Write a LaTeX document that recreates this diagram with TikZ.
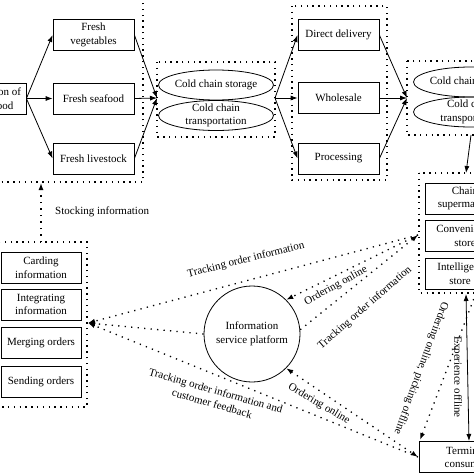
\documentclass[tikz,border=0pt]{standalone}
\usepackage{fontspec}
\setmainfont{Liberation Serif}
\usetikzlibrary{arrows.meta,shapes.geometric}
\newcommand\dfont{\fontsize{11}{13.5}\selectfont}
\begin{document}
\begin{tikzpicture}[x=1pt,y=-1pt,
  box/.style={draw,line width=0.8pt,minimum width=81pt,minimum height=31pt,align=center,inner sep=1pt,font=\dfont},
  grp/.style={draw,line width=1.4pt,dash pattern=on 1.4pt off 4.4pt},
  dotln/.style={line width=1.3pt,dash pattern=on 1.3pt off 5.2pt},
  tip/.style={-{Latex[length=7pt,width=5pt]}},
  tips/.style={{Latex[length=7pt,width=5pt]}-{Latex[length=7pt,width=5pt]}},
  ell/.style={draw,ellipse,line width=0.8pt,minimum width=115pt,minimum height=30pt,inner sep=0pt},
  lbl/.style={font=\dfont,inner sep=0pt,align=center}
]
\useasboundingbox (0,0) rectangle (474,474);
\clip (0,0) rectangle (474,474);

% ---- top row
\node[box,minimum width=70pt] (prod) at (-9,98.5) {Production of\\fresh food};
\node[box] (veg) at (93.5,35) {Fresh\\vegetables};
\node[box] (sea) at (93.5,98.5) {Fresh seafood};
\node[box] (live) at (93.5,158.5) {Fresh livestock};
\draw[grp] (-30,-30) rectangle (143,182);

\draw[grp] (157,62) rectangle (275,137);
\node[ell] (st1) at (216,85) {};
\node[lbl] at (st1) {Cold chain storage};
\node[ell] (tr1) at (216,115.5) {};
\node[lbl] at (tr1) {Cold chain\\transportation};

\node[box] (dd) at (338.5,35) {Direct delivery};
\node[box] (ws) at (338.5,98) {Wholesale};
\node[box] (pr) at (338.5,158.5) {Processing};
\draw[grp] (292,6) rectangle (387,180);

\draw[grp] (407,61) rectangle (560,135);
\node[ell] (st2) at (471,82) {};
\node[lbl] at (st2) {Cold chain storage};
\node[ell] (tr2) at (471,112) {};
\node[lbl] at (tr2) {Cold chain\\transportation};

% ---- retail group
\draw[grp] (419,173) rectangle (560,293);
\node[box,minimum width=80pt] (cs) at (465,198.5) {Chain\\supermarket};
\node[box,minimum width=80pt] (cv) at (465,236) {Convenience\\store};
\node[box,minimum width=80pt] (is) at (465,273.5) {};
\node[lbl] at (460,273.5) {Intelligent\\store};

\node[box,minimum width=94pt] (tc) at (466,457) {Terminal\\consumer};

% ---- left information group
\draw[grp] (-30,242) rectangle (87,407);
\node[box,minimum width=80pt] (ci) at (41,267.5) {Carding\\information};
\node[box,minimum width=80pt] (ii) at (41,304.5) {Integrating\\information};
\node[box,minimum width=80pt] (mo) at (41,342.5) {Merging orders};
\node[box,minimum width=80pt] (so) at (41,381.5) {Sending orders};

\node[circle,draw,line width=0.8pt,minimum size=96pt,inner sep=0pt,align=center,font=\dfont] (isp) at (252,334) {Information\\service platform};

% ---- coordinates
\coordinate (c1) at (157,98);
\coordinate (s1) at (275,98);
\coordinate (c2) at (407,98);
\coordinate (g2b) at (471,135);
\coordinate (g3t) at (466,173);
\coordinate (sk1) at (41,242);
\coordinate (sk2) at (41,183);
\coordinate (LA) at (88,323);
\coordinate (RA) at (418,235);
\coordinate (TA) at (418,457);
\coordinate (TT) at (420,440);
\coordinate (rb) at (476,293);
\coordinate (ex1) at (466,294);
\coordinate (ex2) at (469,441);

% ---- solid arrows
\begin{scope}[line width=0.8pt]
\draw[tip] (prod.east) -- (veg.west);
\draw[tip] (prod.east) -- (sea.west);
\draw[tip] (prod.east) -- (live.west);
\draw[tip] (veg.east) -- (c1);
\draw[tip] (sea.east) -- (c1);
\draw[tip] (live.east) -- (c1);
\draw[tip] (s1) -- (dd.west);
\draw[tip] (s1) -- (ws.west);
\draw[tip] (s1) -- (pr.west);
\draw[tip] (dd.east) -- (c2);
\draw[tip] (ws.east) -- (c2);
\draw[tip] (pr.east) -- (c2);
\draw[tip] (g2b) -- (g3t);
\draw[tips] (ex1) -- (ex2);
\end{scope}

% ---- dotted arrows
\draw[dotln,tip] (sk1) -- (sk2);
\draw[dotln,tip] (RA) -- (LA);
\draw[dotln,tip] (isp.west) -- (LA);
\draw[dotln,tip] (TA) -- (LA);
\draw[dotln,tip] (RA) -- (isp.45);
\draw[dotln,tip] (isp.5) -- (RA);
\draw[dotln,tips] (isp.-45) -- (TA);
\draw[dotln,tip] (rb) -- (TT);

% ---- labels
\node[lbl,anchor=west] at (55,212) {Stocking information};
\node[lbl,rotate=14] at (246,260) {Tracking order information};
\node[lbl,rotate=29] at (336,286) {Ordering online};
\node[lbl,rotate=41] at (365,308) {Tracking order information};
\node[lbl,rotate=-16] at (214,397) {Tracking order information and\\customer feedback};
\node[lbl,rotate=-31] at (319,404) {Ordering online};
\node[lbl,rotate=-110] at (421,368) {Ordering online, picking offline};
\node[lbl,rotate=-90] at (457,377) {Experience offline};
\end{tikzpicture}
\end{document}
